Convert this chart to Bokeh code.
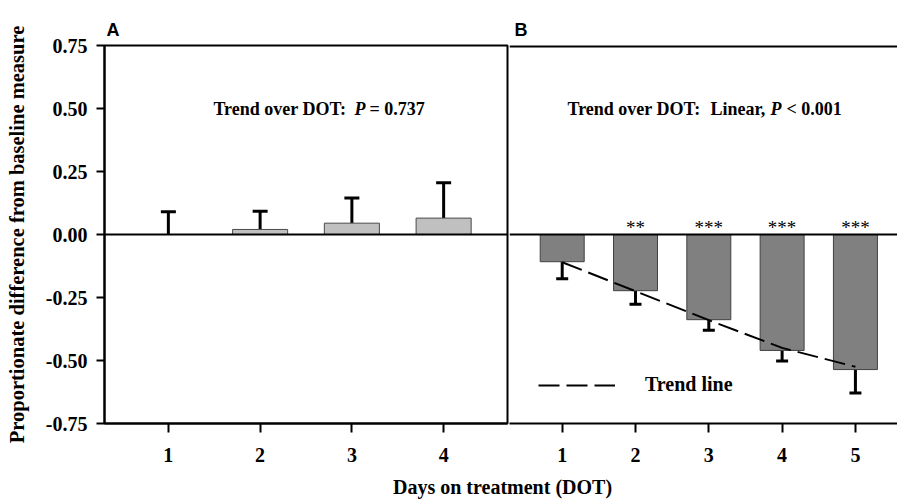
from bokeh.plotting import figure
from bokeh.models import (Range1d, FixedTicker, NumeralTickFormatter, Span, Label, Whisker,
                          TeeHead, ColumnDataSource, Legend, LegendItem, Title, Div)
from bokeh.layouts import row, column
from bokeh.embed import file_html
from bokeh.resources import INLINE
from bokeh.core.properties import value

# ---- data ----
days_a = [1, 2, 3, 4]
mean_a = [0.0, 0.02, 0.045, 0.065]
err_a = [0.09, 0.072, 0.10, 0.14]

days_b = [1, 2, 3, 4, 5]
mean_b = [-0.108, -0.223, -0.338, -0.46, -0.536]
err_b = [0.068, 0.054, 0.042, 0.042, 0.093]
trend_b = [-0.11, -0.225, -0.34, -0.45, -0.525]
sig_b = ["", "**", "***", "***", "***"]

y_ticks = [-0.75, -0.5, -0.25, 0, 0.25, 0.5, 0.75]
y_title = "Proportionate difference from baseline measure"
x_title = "Days on treatment (DOT)"
note_a = ["Trend over DOT:", "P", "= 0.737"]
note_b = ["Trend over DOT:", "Linear,", "P", "< 0.001"]

SERIF = "Liberation Serif"
SANS = "Liberation Sans"

def style_xaxis(ax, ticks):
    ax.ticker = FixedTicker(ticks=ticks)
    ax.axis_line_width = 2
    ax.axis_line_color = "black"
    ax.major_tick_line_width = 2
    ax.major_tick_line_color = "black"
    ax.major_tick_out = 9
    ax.major_tick_in = 0
    ax.minor_tick_line_color = None
    ax.major_label_text_font = SERIF
    ax.major_label_text_font_style = "bold"
    ax.major_label_text_font_size = "20px"
    ax.major_label_text_color = "black"
    ax.major_label_standoff = 15

# ---------------- Panel A ----------------
pA = figure(frame_width=403, frame_height=378, min_border_left=104, min_border_right=2,
            min_border_top=45, min_border_bottom=52,
            x_range=Range1d(0.304, 4.696), y_range=Range1d(-0.75, 0.75),
            output_backend="svg", toolbar_location=None,
            title=Title(text="A", align="left", offset=2, text_font=SANS, text_color="black",
                        text_font_size="18px", text_font_style="bold", standoff=12))
pA.grid.visible = False
pA.outline_line_color = "black"
pA.outline_line_width = 2
pA.outline_line_alpha = 1
style_xaxis(pA.xaxis[0], days_a)
ya = pA.yaxis[0]
ya.ticker = FixedTicker(ticks=y_ticks)
ya.formatter = NumeralTickFormatter(format="0.00")
ya.axis_line_width = 2
ya.axis_line_color = "black"
ya.major_tick_line_width = 2
ya.major_tick_line_color = "black"
ya.major_tick_out = 8
ya.major_tick_in = 0
ya.minor_tick_line_color = None
ya.major_label_text_font = SERIF
ya.major_label_text_font_style = "bold"
ya.major_label_text_font_size = "20px"
ya.major_label_text_color = "black"
ya.major_label_standoff = 9
ya.axis_label = y_title
ya.axis_label_text_font = SERIF
ya.axis_label_text_font_style = "bold"
ya.axis_label_text_font_size = "20.5px"
ya.axis_label_text_color = "black"
ya.axis_label_standoff = 15

srcA = ColumnDataSource(dict(x=days_a, top=mean_a,
                             upper=[m + e for m, e in zip(mean_a, err_a)]))
pA.vbar(x="x", top="top", bottom=0, width=0.6, source=srcA,
        fill_color="#c0c0c0", line_color="#4a4a4a", line_width=1)
pA.add_layout(Span(location=0, dimension="width", line_color="black", line_width=2))
pA.add_layout(Whisker(source=srcA, base="x", lower="top", upper="upper", dimension="height",
                      line_color="black", line_width=3, lower_head=None,
                      upper_head=TeeHead(size=15, line_width=3, line_color="black")))
for txt, off, fs in zip(note_a, [0, 141, 156], ["bold", "bold italic", "bold"]):
    pA.add_layout(Label(x=1.491, y=0.5, text=txt, x_offset=off, text_font=SERIF,
                        text_font_style=fs, text_font_size="18px", text_baseline="middle",
                        text_align="left", text_color="black"))

# ---------------- Panel B ----------------
pB = figure(frame_width=388, frame_height=378, min_border_left=0, min_border_right=0,
            min_border_top=45, min_border_bottom=52,
            x_range=Range1d(0.281, 5.574), y_range=Range1d(-0.75, 0.75),
            y_axis_location=None,
            output_backend="svg", toolbar_location=None,
            title=Title(text="B", align="left", offset=5, text_font=SANS, text_color="black",
                        text_font_size="18px", text_font_style="bold", standoff=12))
pB.grid.visible = False
pB.outline_line_color = None
style_xaxis(pB.xaxis[0], days_b)

srcB = ColumnDataSource(dict(x=days_b, top=mean_b,
                             lower=[m - e for m, e in zip(mean_b, err_b)],
                             trend=trend_b, sig=sig_b))
pB.vbar(x="x", top="top", bottom=0, width=0.6, source=srcB,
        fill_color="#808080", line_color="#404040", line_width=1)
pB.add_layout(Span(location=0, dimension="width", line_color="black", line_width=2))
pB.add_layout(Span(location=0.75, dimension="width", line_color="black", line_width=4))
pB.add_layout(Whisker(source=srcB, base="x", lower="lower", upper="top", dimension="height",
                      line_color="black", line_width=3, upper_head=None,
                      lower_head=TeeHead(size=12, line_width=3, line_color="black")))
trend_r = pB.line(x="x", y="trend", source=srcB, line_color="black", line_width=2,
                  line_dash="21 7")
star_y = 0.026
pB.text(x="x", y=star_y, text="sig", source=srcB, text_font=value(SERIF),
        text_font_size="19px", text_align="center", text_baseline="alphabetic",
        text_color="black")
for txt, off, fs in zip(note_b, [0, 143, 203, 219],
                        ["bold", "bold", "bold italic", "bold"]):
    pB.add_layout(Label(x=1.072, y=0.5, text=txt, x_offset=off, text_font=SERIF,
                        text_font_style=fs, text_font_size="18px", text_baseline="middle",
                        text_align="left", text_color="black"))

legend = Legend(items=[LegendItem(label="Trend line", renderers=[trend_r])],
                location=(29, 27), glyph_width=77, glyph_height=20, label_standoff=30,
                label_text_font=SERIF, label_text_font_style="bold",
                label_text_font_size="20px", label_text_color="black",
                border_line_color=None,
                background_fill_alpha=0, padding=0, margin=0, spacing=0)
pB.add_layout(legend)

xlab = Div(text='<span style="margin-left:393px; white-space:nowrap">' + x_title + '</span>',
           width=897, height=24, margin=(0, 0, 0, 0),
           styles={"font-family": "'Liberation Serif', 'Times New Roman', serif",
                   "font-weight": "bold", "font-size": "20px", "line-height": "24px",
                   "color": "black"})

layout = column(row(pA, pB), xlab)
open("out.html", "w").write(file_html(layout, INLINE))
